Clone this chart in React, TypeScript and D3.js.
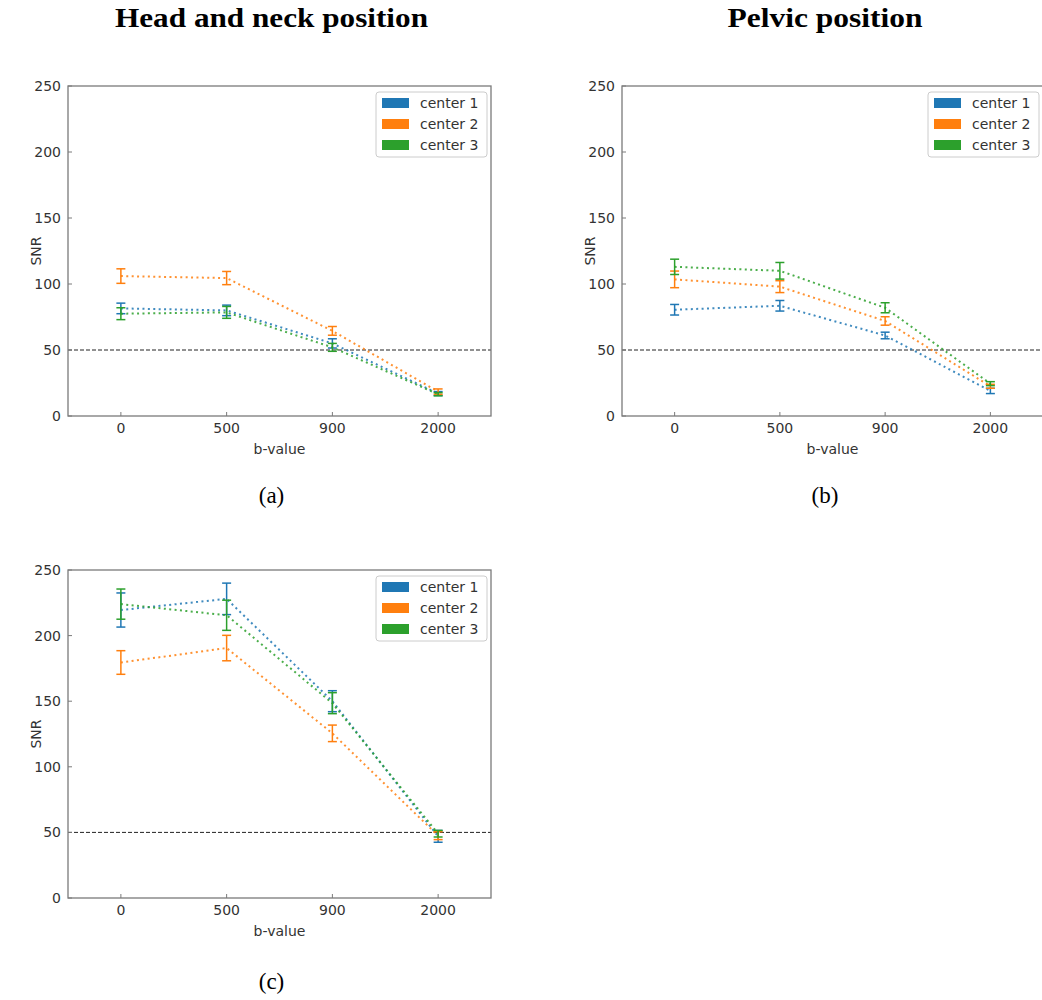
import React from "react";
import * as d3 from "d3";

const CATEGORIES = ["0", "500", "900", "2000"];
const Y_TICKS = [0, 50, 100, 150, 200, 250];
const SERIES_NAMES = ["center 1", "center 2", "center 3"];
const COLORS = ["#1f77b4", "#ff7f0e", "#2ca02c"];
const THRESHOLD = 50;

// Head and neck position
const headMean1 = [81.5, 80, 55, 17];
const headErr1 = [4, 4, 3.5, 1.5];
const headMean2 = [106, 104.5, 64.5, 18.5];
const headErr2 = [5.5, 5, 3.3, 2];
const headMean3 = [77.5, 78.5, 52, 16.5];
const headErr3 = [4.5, 4.5, 3, 1.2];

// Pelvic position
const pelvMean1 = [80.5, 83.5, 61, 19];
const pelvErr1 = [4, 4, 2.5, 2];
const pelvMean2 = [103.5, 98, 72, 22.5];
const pelvErr2 = [6.3, 4.5, 3.2, 1.5];
const pelvMean3 = [113, 110, 82, 24.5];
const pelvErr3 = [5.8, 6.3, 3.8, 1.5];

// (c)
const cMean1 = [219.5, 228, 150, 47];
const cErr1 = [13, 12, 8, 4.5];
const cMean2 = [179.5, 190.5, 125.5, 47.5];
const cErr2 = [9, 9.7, 6.3, 3];
const cMean3 = [224, 215.5, 148.5, 49];
const cErr3 = [11.5, 11.5, 8, 2.5];

const SANS = "'DejaVu Sans', sans-serif";
const SERIF = "'Liberation Serif', 'DejaVu Serif', serif";
const SPINE = "#7a7a7a";
const TEXT = "#333333";

type PanelProps = {
  left: number;
  right: number;
  top: number;
  bottom: number;
  means: number[][];
  errs: number[][];
};

function Panel({ left, right, top, bottom, means, errs }: PanelProps) {
  const x = d3.scalePoint<string>().domain(CATEGORIES).range([left, right]).padding(0.5);
  const y = d3.scaleLinear().domain([0, 250]).range([bottom, top]);
  const line = d3
    .line<number>()
    .x((_, i) => x(CATEGORIES[i]) as number)
    .y((d) => y(d));
  const cap = 4.5;
  const lgW = 111;
  const lgX = right - 4 - lgW;
  const lgY = top + 6;
  return (
    <g>
      {/* threshold */}
      <line
        x1={left}
        x2={right}
        y1={y(THRESHOLD)}
        y2={y(THRESHOLD)}
        stroke="#222"
        strokeWidth={1}
        strokeDasharray="4,2"
      />
      {means.map((m, si) => (
        <g key={si}>
          <path
            d={line(m) as string}
            fill="none"
            stroke={COLORS[si]}
            strokeWidth={2}
            strokeDasharray="2,3.4"
            opacity={0.85}
          />
          {m.map((v, i) => {
            const cx = x(CATEGORIES[i]) as number;
            const e = errs[si][i];
            return (
              <g key={i} stroke={COLORS[si]} strokeWidth={1.5}>
                <line x1={cx} x2={cx} y1={y(v - e)} y2={y(v + e)} />
                <line x1={cx - cap} x2={cx + cap} y1={y(v - e)} y2={y(v - e)} />
                <line x1={cx - cap} x2={cx + cap} y1={y(v + e)} y2={y(v + e)} />
              </g>
            );
          })}
        </g>
      ))}
      {/* spines */}
      <rect x={left} y={top} width={right - left} height={bottom - top} fill="none" stroke={SPINE} strokeWidth={1.3} />
      {/* y ticks */}
      {Y_TICKS.map((t) => (
        <g key={t}>
          <line x1={left} x2={left + 4} y1={y(t)} y2={y(t)} stroke={SPINE} strokeWidth={1} />
          <text
            x={left - 7}
            y={y(t)}
            textAnchor="end"
            dominantBaseline="central"
            fontFamily={SANS}
            fontSize={14}
            fill={TEXT}
          >
            {t}
          </text>
        </g>
      ))}
      {/* x ticks */}
      {CATEGORIES.map((c) => (
        <g key={c}>
          <line
            x1={x(c) as number}
            x2={x(c) as number}
            y1={bottom}
            y2={bottom - 4}
            stroke={SPINE}
            strokeWidth={1}
          />
          <text
            x={x(c) as number}
            y={bottom + 17}
            textAnchor="middle"
            fontFamily={SANS}
            fontSize={14}
            fill={TEXT}
          >
            {c}
          </text>
        </g>
      ))}
      <text
        x={(left + right) / 2}
        y={bottom + 38}
        textAnchor="middle"
        fontFamily={SANS}
        fontSize={14}
        fill={TEXT}
      >
        b-value
      </text>
      <text
        transform={`translate(${left - 27},${(top + bottom) / 2}) rotate(-90)`}
        textAnchor="middle"
        fontFamily={SANS}
        fontSize={14}
        fill={TEXT}
      >
        SNR
      </text>
      {/* legend */}
      <rect x={lgX} y={lgY} width={lgW} height={65} rx={3} fill="#fff" fillOpacity={0.8} stroke="#cccccc" strokeWidth={1} />
      {SERIES_NAMES.map((n, i) => (
        <g key={n}>
          <rect x={lgX + 6} y={lgY + 11 + i * 21 - 5} width={27} height={10} fill={COLORS[i]} />
          <text
            x={lgX + 44}
            y={lgY + 11 + i * 21}
            dominantBaseline="central"
            fontFamily={SANS}
            fontSize={14}
            fill={TEXT}
          >
            {n}
          </text>
        </g>
      ))}
    </g>
  );
}

export default function App() {
  return (
    <svg
      width={1042}
      height={1000}
      style={{ position: "absolute", left: 0, top: 0, background: "#fff" }}
    >
      <rect x={0} y={0} width={1042} height={1000} fill="#fff" />
      <text
        x={271.5}
        y={27}
        textAnchor="middle"
        fontFamily={SERIF}
        fontWeight="bold"
        fontSize={27}
        textLength={313}
        lengthAdjust="spacingAndGlyphs"
        fill="#000"
      >
        Head and neck position
      </text>
      <text
        x={825}
        y={27}
        textAnchor="middle"
        fontFamily={SERIF}
        fontWeight="bold"
        fontSize={27}
        textLength={195}
        lengthAdjust="spacingAndGlyphs"
        fill="#000"
      >
        Pelvic position
      </text>
      <Panel
        left={68}
        right={491}
        top={86}
        bottom={416}
        means={[headMean1, headMean2, headMean3]}
        errs={[headErr1, headErr2, headErr3]}
      />
      <Panel
        left={622}
        right={1043}
        top={86}
        bottom={416}
        means={[pelvMean1, pelvMean2, pelvMean3]}
        errs={[pelvErr1, pelvErr2, pelvErr3]}
      />
      <Panel
        left={68}
        right={491}
        top={570}
        bottom={898}
        means={[cMean1, cMean2, cMean3]}
        errs={[cErr1, cErr2, cErr3]}
      />
      <text x={271.5} y={503} textAnchor="middle" fontFamily={SERIF} fontSize={23} fill="#000">
        (a)
      </text>
      <text x={825} y={503} textAnchor="middle" fontFamily={SERIF} fontSize={23} fill="#000">
        (b)
      </text>
      <text x={271.5} y={989} textAnchor="middle" fontFamily={SERIF} fontSize={23} fill="#000">
        (c)
      </text>
    </svg>
  );
}
